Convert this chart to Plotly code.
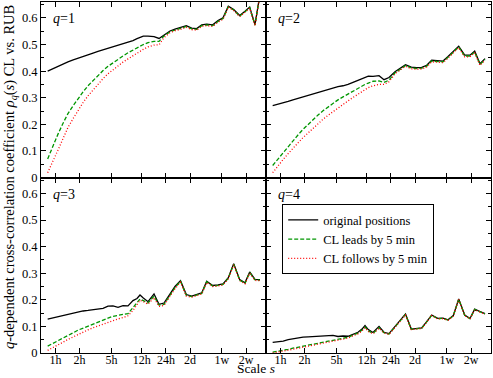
import plotly.graph_objects as go
from plotly.subplots import make_subplots

# scale s in minutes (trading time: 1w = 5 days)
scale_min = [48, 56, 65, 75, 86, 100, 115, 133, 153, 177, 204, 236, 272, 314, 363,
             419, 484, 558, 627, 683, 751, 860, 1022, 1180, 1362, 1618, 1868, 2189,
             2586, 3021, 3487, 4027, 4650, 5526, 6436, 7431, 8655, 10107, 12012,
             13985, 16009, 18650, 21527]

tick_vals = [60, 120, 300, 720, 1440, 2880, 7200, 14400]
tick_text = ["1h", "2h", "5h", "12h", "24h", "2d", "1w", "2w"]

# q = 1
q1_orig = [0.400, 0.410, 0.418, 0.427, 0.435, 0.442, 0.449, 0.456, 0.462, 0.468, 0.474,
           0.480, 0.486, 0.491, 0.497, 0.502, 0.507, 0.515, 0.522, 0.528, 0.532, 0.532,
           0.530, 0.523, 0.537, 0.551, 0.558, 0.563, 0.571, 0.562, 0.560, 0.574, 0.577,
           0.574, 0.590, 0.601, 0.644, 0.632, 0.609, 0.625, 0.641, 0.575, 0.690]
q1_lead = [0.070, 0.120, 0.165, 0.205, 0.240, 0.270, 0.297, 0.322, 0.345, 0.365, 0.385,
           0.402, 0.418, 0.432, 0.445, 0.457, 0.469, 0.480, 0.488, 0.494, 0.500, 0.507,
           0.512, 0.512, 0.532, 0.548, 0.555, 0.560, 0.568, 0.559, 0.557, 0.571, 0.574,
           0.571, 0.587, 0.598, 0.642, 0.630, 0.607, 0.623, 0.639, 0.573, 0.688]
q1_follow = [0.018, 0.060, 0.105, 0.148, 0.188, 0.222, 0.253, 0.282, 0.307, 0.330, 0.352,
             0.372, 0.390, 0.405, 0.420, 0.434, 0.446, 0.458, 0.467, 0.474, 0.482, 0.491,
             0.498, 0.499, 0.526, 0.544, 0.552, 0.557, 0.565, 0.556, 0.554, 0.568, 0.571,
             0.568, 0.584, 0.595, 0.640, 0.628, 0.605, 0.621, 0.637, 0.571, 0.686]

# q = 2
q2_orig = [0.270, 0.275, 0.280, 0.286, 0.292, 0.298, 0.304, 0.310, 0.316, 0.322, 0.327,
           0.333, 0.338, 0.342, 0.345, 0.350, 0.358, 0.366, 0.371, 0.378, 0.381, 0.380,
           0.383, 0.368, 0.376, 0.398, 0.410, 0.424, 0.415, 0.413, 0.414, 0.422, 0.441,
           0.438, 0.438, 0.455, 0.475, 0.494, 0.460, 0.460, 0.475, 0.428, 0.447]
q2_lead = [0.045, 0.070, 0.095, 0.118, 0.140, 0.161, 0.181, 0.200, 0.218, 0.235, 0.251,
           0.266, 0.279, 0.292, 0.303, 0.314, 0.326, 0.337, 0.345, 0.350, 0.355, 0.362,
           0.363, 0.358, 0.366, 0.394, 0.406, 0.421, 0.412, 0.410, 0.411, 0.419, 0.438,
           0.435, 0.435, 0.452, 0.472, 0.491, 0.457, 0.457, 0.472, 0.425, 0.444]
q2_follow = [0.018, 0.045, 0.068, 0.090, 0.111, 0.131, 0.150, 0.168, 0.186, 0.203, 0.219,
             0.234, 0.248, 0.262, 0.275, 0.288, 0.301, 0.314, 0.324, 0.331, 0.338, 0.345,
             0.350, 0.350, 0.360, 0.390, 0.403, 0.418, 0.409, 0.407, 0.408, 0.416, 0.435,
             0.432, 0.432, 0.449, 0.469, 0.488, 0.454, 0.454, 0.469, 0.422, 0.441]

# q = 3
q3_orig = [0.127, 0.132, 0.137, 0.142, 0.146, 0.151, 0.156, 0.158, 0.160, 0.162, 0.165,
           0.168, 0.176, 0.177, 0.172, 0.178, 0.177, 0.197, 0.205, 0.218, 0.207, 0.193,
           0.222, 0.183, 0.188, 0.222, 0.250, 0.272, 0.220, 0.214, 0.220, 0.226, 0.270,
           0.254, 0.256, 0.260, 0.283, 0.336, 0.276, 0.264, 0.305, 0.277, 0.276]
q3_lead = [0.026, 0.036, 0.046, 0.056, 0.066, 0.076, 0.086, 0.094, 0.102, 0.110, 0.117,
           0.124, 0.131, 0.138, 0.143, 0.145, 0.148, 0.170, 0.188, 0.203, 0.197, 0.188,
           0.214, 0.180, 0.183, 0.216, 0.246, 0.270, 0.217, 0.212, 0.218, 0.224, 0.268,
           0.252, 0.254, 0.258, 0.281, 0.334, 0.274, 0.262, 0.303, 0.275, 0.274]
q3_follow = [0.010, 0.020, 0.030, 0.041, 0.051, 0.061, 0.070, 0.079, 0.087, 0.095, 0.102,
             0.109, 0.116, 0.122, 0.128, 0.133, 0.140, 0.160, 0.180, 0.198, 0.193, 0.184,
             0.208, 0.175, 0.179, 0.212, 0.242, 0.266, 0.214, 0.210, 0.216, 0.222, 0.265,
             0.250, 0.252, 0.256, 0.279, 0.332, 0.272, 0.260, 0.300, 0.273, 0.272]

# q = 4
q4_orig = [0.040, 0.042, 0.045, 0.050, 0.054, 0.058, 0.060, 0.061, 0.062, 0.063, 0.064,
           0.066, 0.066, 0.062, 0.064, 0.063, 0.072, 0.078, 0.090, 0.103, 0.088, 0.077,
           0.100, 0.078, 0.073, 0.100, 0.125, 0.147, 0.090, 0.092, 0.094, 0.118, 0.143,
           0.130, 0.131, 0.125, 0.141, 0.203, 0.143, 0.130, 0.165, 0.156, 0.148]
q4_lead = [0.003, 0.006, 0.010, 0.014, 0.018, 0.022, 0.026, 0.030, 0.034, 0.038, 0.042,
           0.046, 0.050, 0.054, 0.057, 0.059, 0.068, 0.075, 0.086, 0.098, 0.083, 0.074,
           0.095, 0.076, 0.071, 0.098, 0.123, 0.145, 0.089, 0.091, 0.093, 0.117, 0.142,
           0.129, 0.130, 0.124, 0.140, 0.202, 0.142, 0.129, 0.164, 0.155, 0.147]
q4_follow = [0.000, 0.003, 0.006, 0.010, 0.014, 0.018, 0.022, 0.026, 0.030, 0.034, 0.038,
             0.042, 0.046, 0.050, 0.053, 0.056, 0.065, 0.072, 0.083, 0.095, 0.081, 0.072,
             0.093, 0.075, 0.070, 0.096, 0.121, 0.143, 0.088, 0.090, 0.092, 0.116, 0.141,
             0.128, 0.129, 0.123, 0.139, 0.201, 0.141, 0.128, 0.163, 0.154, 0.146]

panels = [
    (1, 1, 1, q1_orig, q1_lead, q1_follow),
    (1, 2, 2, q2_orig, q2_lead, q2_follow),
    (2, 1, 3, q3_orig, q3_lead, q3_follow),
    (2, 2, 4, q4_orig, q4_lead, q4_follow),
]

FONT = "Liberation Serif, Times New Roman, serif"

fig = make_subplots(rows=2, cols=2, shared_xaxes=True, shared_yaxes=True,
                    horizontal_spacing=0, vertical_spacing=0)

for row, col, q, orig, lead, follow in panels:
    show = q == 4
    fig.add_trace(go.Scatter(x=scale_min, y=orig, mode="lines", name="original positions",
                             line=dict(color="black", width=1.3), showlegend=show),
                  row=row, col=col)
    fig.add_trace(go.Scatter(x=scale_min, y=lead, mode="lines", name="CL leads by 5 min",
                             line=dict(color="rgb(0,150,0)", width=1.3, dash="4px,2px"),
                             showlegend=show),
                  row=row, col=col)
    fig.add_trace(go.Scatter(x=scale_min, y=follow, mode="lines", name="CL follows by 5 min",
                             line=dict(color="red", width=1.3, dash="1px,2px"),
                             showlegend=show),
                  row=row, col=col)
    sfx = "" if q == 1 else str(q)
    fig.add_annotation(text=f"<i>q</i>={q}", xref=f"x{sfx} domain", yref=f"y{sfx} domain",
                       x=0.045, y=0.96, xanchor="left", yanchor="top", showarrow=False,
                       font=dict(size=14, family=FONT, color="black"))

fig.update_xaxes(type="log", range=[1.598, 4.408], tickvals=tick_vals, ticktext=tick_text,
                 ticks="inside", ticklen=5, tickcolor="black", mirror="allticks",
                 showline=True, linecolor="black", linewidth=1, showgrid=False,
                 zeroline=False, ticklabelstandoff=-4,
                 tickfont=dict(size=12, family=FONT, color="black"))
fig.update_yaxes(range=[0, 0.66], dtick=0.1, ticks="inside", ticklen=5, tickcolor="black",
                 minor=dict(ticks="inside", ticklen=3, dtick=0.05, tickcolor="black"),
                 mirror="allticks", showline=True, linecolor="black", linewidth=1,
                 showgrid=False, zeroline=False,
                 tickfont=dict(size=12.5, family=FONT, color="black"))

fig.add_annotation(text="<i>q</i>-dependent cross-correlation coefficient "
                        "<i>ρ<sub>q</sub></i>(<i>s</i>) CL vs. RUB",
                   xref="paper", yref="paper", x=-0.07, y=0.5, textangle=-90,
                   xanchor="center", yanchor="middle", showarrow=False,
                   font=dict(size=14.5, family=FONT, color="black"))
fig.add_annotation(text="Scale <i>s</i>", xref="paper", yref="paper", x=0.478, y=-0.0712,
                   xanchor="center", yanchor="bottom", showarrow=False,
                   font=dict(size=13.5, family=FONT, color="black"))

fig.update_layout(
    width=493, height=378,
    margin=dict(l=41, r=2, t=2, b=25),
    plot_bgcolor="white", paper_bgcolor="white",
    font=dict(family=FONT, color="black"),
    legend=dict(x=0.536, y=0.424, xanchor="left", yanchor="top", bgcolor="white",
                bordercolor="black", borderwidth=1, tracegroupgap=0, itemwidth=30,
                font=dict(size=12.5, family=FONT, color="black")),
)

# the page body has a default 8px margin; drop it so the figure sits at the corner
fig.write_html("out.html", config={"displayModeBar": False},
               post_script="document.body.style.margin='0';")
